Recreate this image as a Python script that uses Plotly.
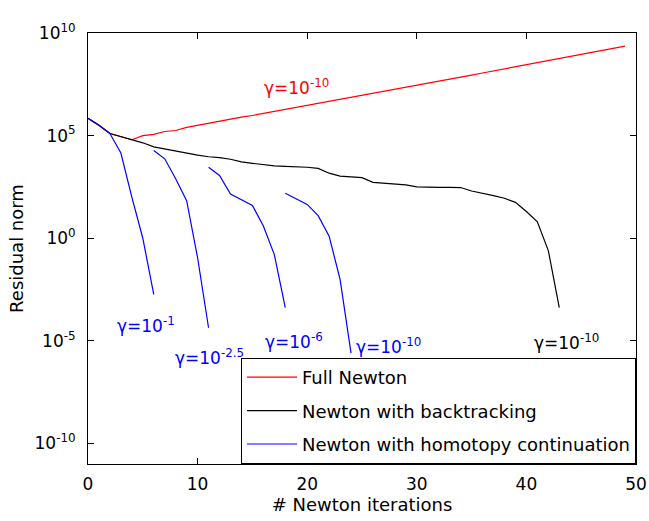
import plotly.graph_objects as go

# ---------------- data (log10 of residual norm) ----------------
full_newton_iter = list(range(0, 50))
full_newton_log = [5.84, 5.5, 5.1, 4.95, 4.8, 5.0, 5.06, 5.2, 5.25, 5.4,
                   5.5, 5.6, 5.72, 5.8, 5.9, 5.98, 6.08, 6.15, 6.25, 6.35,
                   6.45, 6.58, 6.65, 6.75, 6.85, 6.95, 7.05, 7.15, 7.25, 7.36,
                   7.45, 7.55, 7.65, 7.75, 7.85, 7.95, 8.05, 8.15, 8.25, 8.35,
                   8.45, 8.55, 8.65, 8.75, 8.85, 8.95, 9.05, 9.15, 9.25, 9.36]

backtrack_iter = list(range(0, 44))
backtrack_log = [5.84, 5.5, 5.1, 4.95, 4.8, 4.65, 4.45, 4.35, 4.22, 4.15,
                 4.05, 3.97, 3.93, 3.85, 3.72, 3.65, 3.58, 3.53, 3.5, 3.48,
                 3.46, 3.4, 3.17, 3.03, 3.0, 2.95, 2.72, 2.68, 2.66, 2.6,
                 2.5, 2.48, 2.48, 2.48, 2.47, 2.3, 2.2, 2.08, 1.95, 1.75,
                 1.3, 0.8, -0.6, -3.38]

homotopy1_iter = [0, 1, 2, 3, 4, 5, 6]
homotopy1_log = [5.84, 5.5, 5.1, 4.15, 2.0, 0.0, -2.73]

homotopy2_iter = [6, 7, 8, 9, 10, 11]
homotopy2_log = [4.28, 3.87, 2.9, 1.83, -0.95, -4.36]

homotopy3_iter = [11, 12, 13, 14, 15, 16, 17, 18]
homotopy3_log = [3.46, 3.06, 2.15, 1.87, 1.6, 0.6, -0.8, -3.38]

homotopy4_iter = [18, 19, 20, 21, 22, 23, 24]
homotopy4_log = [2.19, 1.93, 1.65, 1.1, 0.1, -2.0, -5.6]

y_tick_exps = [-10, -5, 0, 5, 10]
x_tick_vals = [0, 10, 20, 30, 40, 50]

# labels: (text, x, log10 y, colour)
gamma_labels = [
    ("γ=10<sup>-10</sup>", 19.0, 7.36, "#ff0000"),
    ("γ=10<sup>-1</sup>", 5.3, -4.25, "#0000ff"),
    ("γ=10<sup>-2.5</sup>", 11.04, -5.8, "#0000ff"),
    ("γ=10<sup>-6</sup>", 18.75, -5.0, "#0000ff"),
    ("γ=10<sup>-10</sup>", 27.46, -5.26, "#0000ff"),
    ("γ=10<sup>-10</sup>", 43.66, -5.06, "#000000"),
]

FONT = "DejaVu Sans"

def pw(vals):
    return [10 ** v for v in vals]

fig = go.Figure()
fig.add_trace(go.Scatter(x=full_newton_iter, y=pw(full_newton_log), mode="lines",
                         line=dict(color="#ff0000", width=1.2),
                         name="Full Newton", legendgroup="full"))
fig.add_trace(go.Scatter(x=backtrack_iter, y=pw(backtrack_log), mode="lines",
                         line=dict(color="#000000", width=1.2),
                         name="Newton with backtracking", legendgroup="back"))
for i, (xs, ys) in enumerate([(homotopy1_iter, homotopy1_log),
                              (homotopy2_iter, homotopy2_log),
                              (homotopy3_iter, homotopy3_log),
                              (homotopy4_iter, homotopy4_log)]):
    fig.add_trace(go.Scatter(x=xs, y=pw(ys), mode="lines",
                             line=dict(color="#0000ff", width=1.2),
                             name="Newton with homotopy continuation",
                             legendgroup="homo", showlegend=(i == 0)))

for text, gx, gy, col in gamma_labels:
    fig.add_annotation(x=gx, y=gy, xref="x", yref="y", text=text, showarrow=False,
                       font=dict(family=FONT, size=17, color=col),
                       xanchor="center", yanchor="middle")

fig.update_layout(
    width=649, height=521,
    margin=dict(l=88, r=13, t=33, b=57),
    paper_bgcolor="white", plot_bgcolor="white",
    font=dict(family=FONT, size=17, color="#000000"),
    showlegend=True,
    legend=dict(x=1, y=0, xanchor="right", yanchor="bottom",
                bgcolor="white", bordercolor="#000000", borderwidth=1,
                font=dict(family=FONT, size=18, color="#000000"),
                traceorder="grouped", tracegroupgap=7, itemwidth=50),
)
fig.update_xaxes(range=[0, 50], tickvals=x_tick_vals, ticktext=[str(v) for v in x_tick_vals],
                 ticks="inside", ticklen=6, tickcolor="#000000", showline=True,
                 linecolor="#000000", linewidth=1, mirror="ticks", showgrid=False,
                 zeroline=False, ticklabelstandoff=5, automargin=False,
                 title=dict(text="# Newton iterations", standoff=0,
                            font=dict(family=FONT, size=18)))
fig.update_yaxes(type="log", range=[-11, 10], tickvals=[10 ** e for e in y_tick_exps],
                 ticktext=["10<sup>%d</sup>" % e for e in y_tick_exps],
                 ticks="inside", ticklen=6, tickcolor="#000000", showline=True,
                 linecolor="#000000", linewidth=1, mirror="ticks", showgrid=False,
                 zeroline=False, ticklabelstandoff=8, automargin=False,
                 title=dict(text="Residual norm", standoff=6,
                            font=dict(family=FONT, size=18)))

fig.write_html("out.html", config={"displayModeBar": False},
               post_script="document.body.style.margin='0px';")
